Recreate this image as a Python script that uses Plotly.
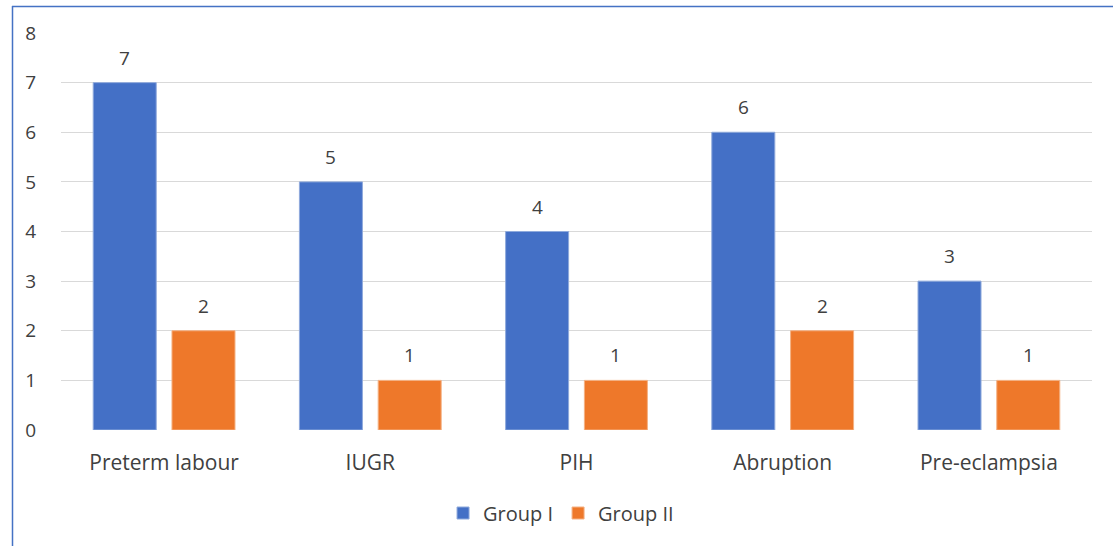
import plotly.graph_objects as go

categories = ["Preterm labour", "IUGR", "PIH", "Abruption", "Pre-eclampsia"]
group_1 = [7, 5, 4, 6, 3]
group_2 = [2, 1, 1, 2, 1]
y_ticks = [0, 1, 2, 3, 4, 5, 6, 7, 8]

W, H = 1113, 546
ML, MR, MT, MB = 61, 21, 33, 116
FONT = "Open Sans, Noto Sans, sans-serif"
FS = 20
TXT = "#404040"

fig = go.Figure()
fig.add_trace(go.Bar(
    x=categories, y=group_1, name="Group I",
    marker=dict(color="#4470C6", line=dict(color="#8FAADC", width=1)),
))
fig.add_trace(go.Bar(
    x=categories, y=group_2, name="Group II",
    marker=dict(color="#EE782A", line=dict(color="#F4B183", width=1)),
))

# value labels above each bar
offsets = {"Group I": -0.191, "Group II": 0.191}
for name, vals in (("Group I", group_1), ("Group II", group_2)):
    for i, v in enumerate(vals):
        fig.add_annotation(
            x=i + offsets[name], y=v, xref="x", yref="y",
            text=str(v), showarrow=False, yshift=25, yanchor="middle",
            font=dict(family=FONT, size=FS - 1, color=TXT),
        )

# chart frame (top and left edges visible)
px = lambda v: (v - ML) / (W - ML - MR)
py = lambda v: 1 - (v - MT) / (H - MT - MB)
fig.add_shape(type="line", xref="paper", yref="paper",
              x0=px(12), x1=px(1200), y0=py(6.5), y1=py(6.5),
              line=dict(color="#4472C4", width=1.5))
fig.add_shape(type="line", xref="paper", yref="paper",
              x0=px(12.5), x1=px(12.5), y0=py(6), y1=py(700),
              line=dict(color="#4472C4", width=1.5))

fig.update_layout(
    width=W, height=H,
    margin=dict(l=ML, r=MR, t=MT, b=MB),
    paper_bgcolor="white", plot_bgcolor="white",
    barmode="group", bargap=0.236, bargroupgap=0.2,
    font=dict(family=FONT, size=FS, color=TXT),
    showlegend=True,
    legend=dict(orientation="h", x=0.485, xanchor="center", y=py(513), yanchor="middle",
                font=dict(family=FONT, size=FS, color=TXT),
                itemwidth=30, traceorder="normal"),
    xaxis=dict(showgrid=False, showline=False, ticks="outside", ticklen=14,
               tickcolor="rgba(0,0,0,0)", tickfont=dict(size=FS + 1, color=TXT)),
    yaxis=dict(range=[0, 8], tickvals=y_ticks, showgrid=True, gridcolor="#D9D9D9",
               gridwidth=1, zeroline=False, showline=False, ticks="outside",
               ticklen=20, tickcolor="rgba(0,0,0,0)",
               tickfont=dict(size=FS - 1, color=TXT)),
)

fig.write_html("out.html")
